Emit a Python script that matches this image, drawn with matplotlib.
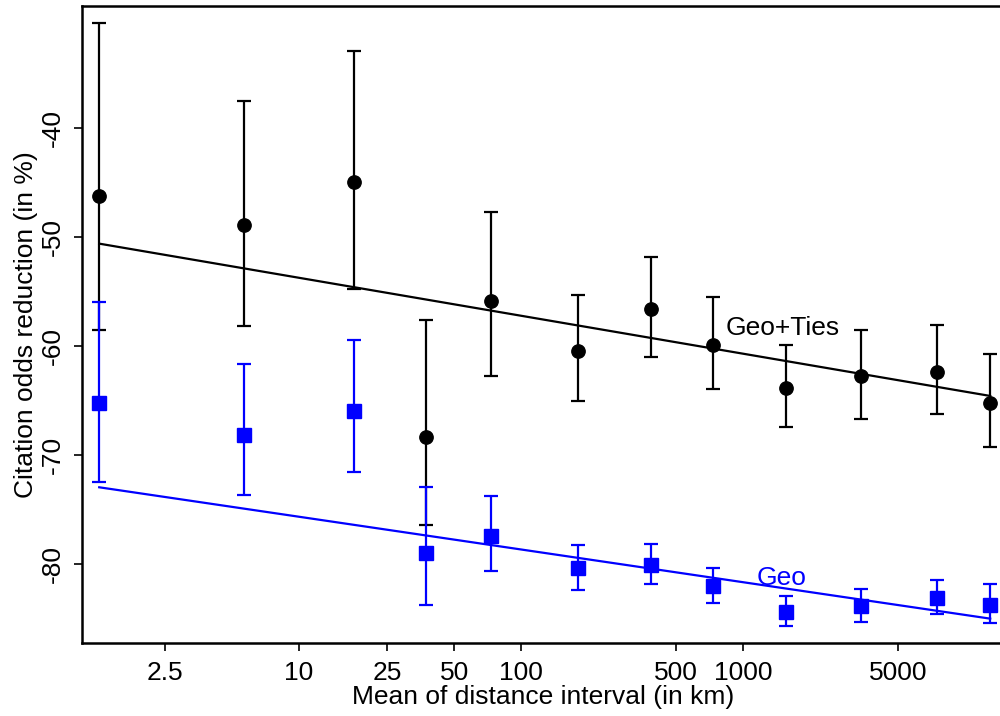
import matplotlib
matplotlib.use("Agg")
import matplotlib.pyplot as plt
import numpy as np
from matplotlib.ticker import FixedLocator, FixedFormatter, NullLocator

plt.rcParams['font.family'] = ['Liberation Sans', 'DejaVu Sans']

# distance interval means (km)
dist = [1.26, 5.64, 17.7, 37.2, 73.6, 180, 385, 736, 1560, 3406, 7466, 13000]

# Geo+Ties (black)
ties_val = [-46.23, -48.91, -44.94, -68.33, -55.87, -60.45, -56.63, -59.93, -63.81, -62.77, -62.37, -65.18]
ties_hi = [-30.44, -37.55, -33.0, -57.6, -47.69, -55.35, -51.81, -55.48, -59.87, -58.55, -58.1, -60.7]
ties_lo = [-58.5, -58.19, -54.74, -76.4, -62.77, -65.0, -60.97, -63.93, -67.41, -66.65, -66.22, -69.24]

# Geo (blue)
geo_val = [-65.18, -68.17, -65.97, -78.97, -77.36, -80.35, -80.02, -81.97, -84.32, -83.8, -83.07, -83.71]
geo_hi = [-55.93, -61.64, -59.41, -72.88, -73.7, -78.19, -78.12, -80.32, -82.89, -82.22, -81.42, -81.79]
geo_lo = [-72.45, -73.6, -71.5, -83.71, -80.57, -82.36, -81.76, -83.55, -85.63, -85.24, -84.56, -85.39]

# fitted lines: value = intercept + slope * log10(distance)
ties_fit = [-50.27, -3.475]
geo_fit = [-72.63, -2.997]

xticks = [2.5, 10, 25, 50, 100, 500, 1000, 5000]
xtick_labels = ["2.5", "10", "25", "50", "100", "500", "1000", "5000"]
yticks = [-80, -70, -60, -50, -40]

FS = 19

fig = plt.figure(figsize=(10, 7.16), dpi=100)
ax = fig.add_axes([0.082, 0.10196, 0.923, 0.89008])
ax.set_xscale('log')

d = np.array(dist)

def draw(vals, hi, lo, fit, color, marker):
    vals = np.array(vals); hi = np.array(hi); lo = np.array(lo)
    yerr = np.vstack([vals - lo, hi - vals])
    ax.errorbar(d, vals, yerr=yerr, fmt=marker, color=color, ms=9.6,
                elinewidth=1.6, capsize=4.8, capthick=1.6, ecolor=color,
                mec=color, mfc=color, zorder=3)
    xs = np.array([d[0], d[-1]])
    ax.plot(xs, fit[0] + fit[1] * np.log10(xs), color=color, lw=1.6, zorder=2)

draw(ties_val, ties_hi, ties_lo, ties_fit, 'black', 'o')
draw(geo_val, geo_hi, geo_lo, geo_fit, '#0000ff', 's')

ax.text(1507, -58.98, "Geo+Ties", color='black', fontsize=FS, ha='center', va='baseline')
ax.text(1500, -81.88, "Geo", color='#0000ff', fontsize=FS, ha='center', va='baseline')

ax.set_xlim(1.054, 15156)
ax.set_ylim(-87.19, -28.83)

ax.xaxis.set_major_locator(FixedLocator(xticks))
ax.xaxis.set_major_formatter(FixedFormatter(xtick_labels))
ax.xaxis.set_minor_locator(NullLocator())
ax.set_yticks(yticks)
ax.set_yticklabels([str(v) for v in yticks], rotation=90, va='center')

ax.tick_params(axis='both', labelsize=FS, length=6, width=1.2, direction='out')
ax.tick_params(axis='x', pad=7)
ax.tick_params(axis='y', pad=6)

for s in ax.spines.values():
    s.set_linewidth(1.8)

ax.set_xlabel("Mean of distance interval (in km)", fontsize=FS, labelpad=0)
ax.set_ylabel("Citation odds reduction (in %)", fontsize=FS, labelpad=2.5)

fig.savefig("out.png", dpi=100)
